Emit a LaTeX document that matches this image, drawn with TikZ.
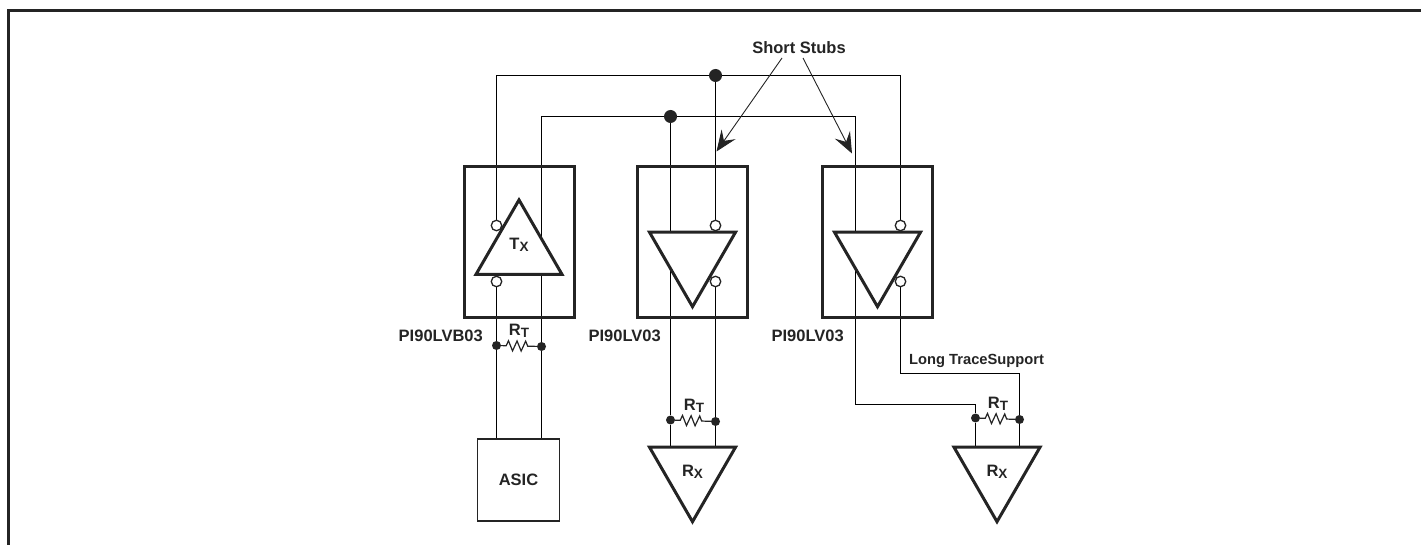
\documentclass[tikz,border=0pt]{standalone}
\usepackage{fontspec}
\setmainfont{Liberation Sans}
\usetikzlibrary{arrows.meta,backgrounds,decorations.pathmorphing,shapes.geometric}
\definecolor{ink}{gray}{0.14}
\newcommand{\bigfont}{\fontsize{16.5}{18}\selectfont\bfseries}
\newcommand{\subfont}[2]{#1\raisebox{-1.5pt}{\fontsize{13.5}{14}\selectfont #2}}

\begin{document}
\begin{tikzpicture}[x=1pt,y=-1pt,ink,
    txt/.style={font=\bigfont,text=ink,inner sep=0pt},
    wire/.style={line width=1.6pt},
    chip/.style={draw,line width=3pt,inner sep=0pt,minimum width=110pt,minimum height=150pt},
    gate/.style={draw,fill=white,line width=3pt,regular polygon,regular polygon sides=3,minimum size=99.4pt,inner sep=0pt,outer sep=0pt,font=\bigfont,text=ink},
    down/.style={gate,shape border rotate=180},
    bubble/.style={circle,draw,fill=white,line width=1.3pt,minimum size=10.5pt,inner sep=0pt},
    dot/.style={circle,fill=ink,minimum size=#1,inner sep=0pt},
    dot/.default=9pt,
    res/.style={line width=1.2pt,decorate,decoration={zigzag,segment length=8.6pt,amplitude=5pt,pre length=5pt,post length=5pt}},
    stub/.style={line width=0.9pt,-{Stealth[length=21pt,width=17pt,inset=8pt]}}]

    \useasboundingbox (0,0) rectangle (1421,545);
    % outer frame
    \draw[line width=3pt] (8.3,545) -- (8.3,11) -- (1421,11);

    % the three packages
    \node[chip] (chipA) at (519,242) {};
    \node[chip] (chipB) at (692.5,242) {};
    \node[chip] (chipC) at (877.5,242) {};

    \node[gate] (tx) at (519,249.6) {};
    \node[txt] (txlab) at (519,245) {\subfont{T}{X}};
    \node[down] (gateB) at (692.5,257) {};
    \node[down] (gateC) at (877.5,257) {};
    \node[down] (rxB) at (692.5,472) {\subfont{R}{X}};
    \node[down] (rxC) at (997,472) {\subfont{R}{X}};

    \node[draw,line width=1.3pt,inner sep=0pt,minimum width=82pt,minimum height=82pt,font=\bigfont,text=ink] (asic) at (518.5,480) {ASIC};

    \node[bubble] (a1) at (496.5,225.5) {};
    \node[bubble] (a2) at (496.5,281.5) {};
    \node[bubble] (b1) at (715.5,225.5) {};
    \node[bubble] (b2) at (715.5,281.5) {};
    \node[bubble] (c1) at (900.5,225.5) {};
    \node[bubble] (c2) at (900.5,281.5) {};

    \node[dot=13pt] (busA) at (715.5,75.5) {};
    \node[dot=13pt] (busB) at (670.5,116.5) {};

    \node[dot] (ra1) at (496.5,345.5) {};
    \node[dot] (ra2) at (541.5,346.5) {};
    \node[dot] (rb1) at (670.5,420) {};
    \node[dot] (rb2) at (715.5,421.5) {};
    \node[dot] (rc1) at (975.5,418) {};
    \node[dot] (rc2) at (1019.5,419.5) {};

    \coordinate (bendC) at (855.5,404.5);
    \coordinate (bendD) at (900.5,373.5);
    \coordinate (stubL) at (782,58);
    \coordinate (stubR) at (803,58);
    \coordinate (tipB) at (716.5,151.5);
    \coordinate (tipC) at (852,153.5);

    % labels
    \node[txt] (stubs) at (799,48) {Short Stubs};
    \node[txt,anchor=east] (nameA) at (483,336) {PI90LVB03};
    \node[txt,anchor=east] (nameB) at (661,336) {PI90LV03};
    \node[txt,anchor=east] (nameC) at (844,336) {PI90LV03};
    \node[txt,font=\fontsize{14.7}{16}\selectfont\bfseries,anchor=west] (trace) at (909,361) {Long TraceSupport};
    \node[txt] (rta) at (519,331) {\subfont{R}{T}};
    \node[txt] (rtb) at (694,406) {\subfont{R}{T}};
    \node[txt] (rtc) at (998,404) {\subfont{R}{T}};

    \draw[res] (ra1) -- (ra2);
    \draw[res] (rb1) -- (rb2);
    \draw[res] (rc1) -- (rc2);

    \draw[stub] (stubL) -- (tipB);
    \draw[stub] (stubR) -- (tipC);

    \begin{pgfonlayer}{background}
    \draw[wire] (a1) |- (busA) -| (c1);
    \draw[wire] (busA) -- (b1);
    \draw[wire] (ra2) |- (busB) -| (bendC) -| (rc1);
    \draw[wire] (busB) -- (rb1);
    \draw[wire] (a2) -- (ra1) -- (ra1 |- asic.north);
    \draw[wire] (ra2) -- (ra2 |- asic.north);
    \draw[wire] (b2) -- (rb2) -- (rb2 |- rxB.north);
    \draw[wire] (rb1) -- (rb1 |- rxB.north);
    \draw[wire] (c2) -- (bendD) -| (rc2);
    \draw[wire] (rc1) -- (rc1 |- rxC.north);
    \draw[wire] (rc2) -- (rc2 |- rxC.north);
    \end{pgfonlayer}
\end{tikzpicture}
\end{document}
